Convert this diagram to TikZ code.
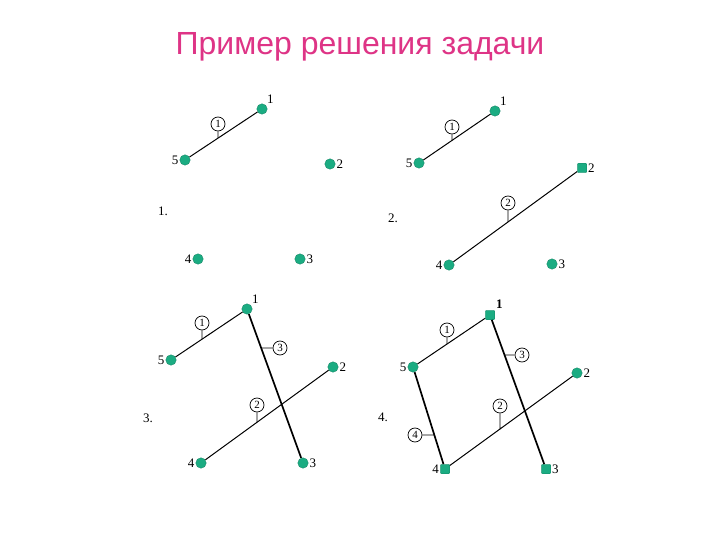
\documentclass[tikz,border=0pt]{standalone}
\usepackage{fontspec}
\setmainfont{Liberation Serif}
\newfontfamily\titlefont{Liberation Sans}
\usepackage{xcolor}

\definecolor{vtxgreen}{RGB}{27,172,130}
\definecolor{titlepink}{RGB}{222,52,134}

\tikzset{
  vtx/.style={circle,fill=vtxgreen,draw=vtxgreen!75!black,line width=0.3pt,inner sep=0pt,minimum size=10.5pt},
  vtxsq/.style={rectangle,rounded corners=1pt,fill=vtxgreen,draw=vtxgreen!75!black,line width=0.3pt,inner sep=0pt,minimum size=9.5pt},
  num/.style={font=\fontsize{13}{14}\selectfont,inner sep=1pt},
  ord/.style={circle,draw,line width=0.7pt,inner sep=0.4pt,minimum size=14pt,font=\fontsize{11}{12}\selectfont},
  seg/.style={line width=1pt},
  segb/.style={line width=1.7pt},
  tick/.style={line width=0.9pt}
}

\begin{document}
\begin{tikzpicture}[x=1pt,y=-1pt]
\useasboundingbox (0,0) rectangle (720,540);

% title
\node[font=\titlefont\fontsize{32}{35}\selectfont,text=titlepink] (title) at (360,47) {Пример решения задачи};

% panel 1
\node[vtx,label={[num]north east:1}] (a1) at (262,109) {};
\node[vtx,label={[num]right:2}] (a2) at (330,164) {};
\node[vtx,label={[num]right:3}] (a3) at (300,259) {};
\node[vtx,label={[num]left:4}] (a4) at (198,259) {};
\node[vtx,label={[num]left:5}] (a5) at (185,160) {};
\node[num] (p1) at (163,211) {1.};

\draw[seg] (a5) -- (a1);
\node[ord] (qa1) at (218,124) {1};
\draw[tick] (qa1.south) -- (intersection of a5--a1 and qa1.south--qa1.center);

% panel 2
\node[vtx,label={[num]north east:1}] (b1) at (495,111) {};
\node[vtxsq,label={[num]right:2}] (b2) at (582,168) {};
\node[vtx,label={[num]right:3}] (b3) at (552,264) {};
\node[vtx,label={[num]left:4}] (b4) at (449,265) {};
\node[vtx,label={[num]left:5}] (b5) at (419,163) {};
\node[num] (p2) at (393,218) {2.};

\draw[seg] (b5) -- (b1);
\draw[seg] (b4) -- (b2);
\node[ord] (qb1) at (452,127) {1};
\draw[tick] (qb1.south) -- (intersection of b5--b1 and qb1.south--qb1.center);
\node[ord] (qb2) at (508,203) {2};
\draw[tick] (qb2.south) -- (intersection of b4--b2 and qb2.south--qb2.center);

% panel 3
\node[vtx,label={[num]north east:1}] (c1) at (247,309) {};
\node[vtx,label={[num]right:2}] (c2) at (333,367) {};
\node[vtx,label={[num]right:3}] (c3) at (303,463) {};
\node[vtx,label={[num]left:4}] (c4) at (201,463) {};
\node[vtx,label={[num]left:5}] (c5) at (171,360) {};
\node[num] (p3) at (148,418) {3.};

\draw[seg] (c5) -- (c1);
\draw[seg] (c4) -- (c2);
\draw[segb] (c1) -- (c3);
\node[ord] (qc1) at (202,323) {1};
\draw[tick] (qc1.south) -- (intersection of c5--c1 and qc1.south--qc1.center);
\node[ord] (qc3) at (280,348) {3};
\draw[tick] (qc3.west) -- (intersection of c1--c3 and qc3.west--qc3.center);
\node[ord] (qc2) at (257,405) {2};
\draw[tick] (qc2.south) -- (intersection of c4--c2 and qc2.south--qc2.center);

% panel 4
\node[vtxsq,label={[num,font=\bfseries\fontsize{13}{14}\selectfont]north east:1}] (d1) at (490,315) {};
\node[vtx,label={[num]right:2}] (d2) at (577,373) {};
\node[vtxsq,label={[num]right:3}] (d3) at (546,469) {};
\node[vtxsq,label={[num]left:4}] (d4) at (445,469) {};
\node[vtx,label={[num]left:5}] (d5) at (413,367) {};
\node[num] (p4) at (383,417) {4.};

\draw[seg] (d5) -- (d1);
\draw[seg] (d4) -- (d2);
\draw[segb] (d1) -- (d3);
\draw[segb] (d5) -- (d4);
\node[ord] (qd1) at (447,330) {1};
\draw[tick] (qd1.south) -- (intersection of d5--d1 and qd1.south--qd1.center);
\node[ord] (qd3) at (522,355) {3};
\draw[tick] (qd3.west) -- (intersection of d1--d3 and qd3.west--qd3.center);
\node[ord] (qd2) at (500,406) {2};
\draw[tick] (qd2.south) -- (intersection of d4--d2 and qd2.south--qd2.center);
\node[ord] (qd4) at (415,435) {4};
\draw[tick] (qd4.east) -- (intersection of d5--d4 and qd4.east--qd4.center);

\end{tikzpicture}
\end{document}
